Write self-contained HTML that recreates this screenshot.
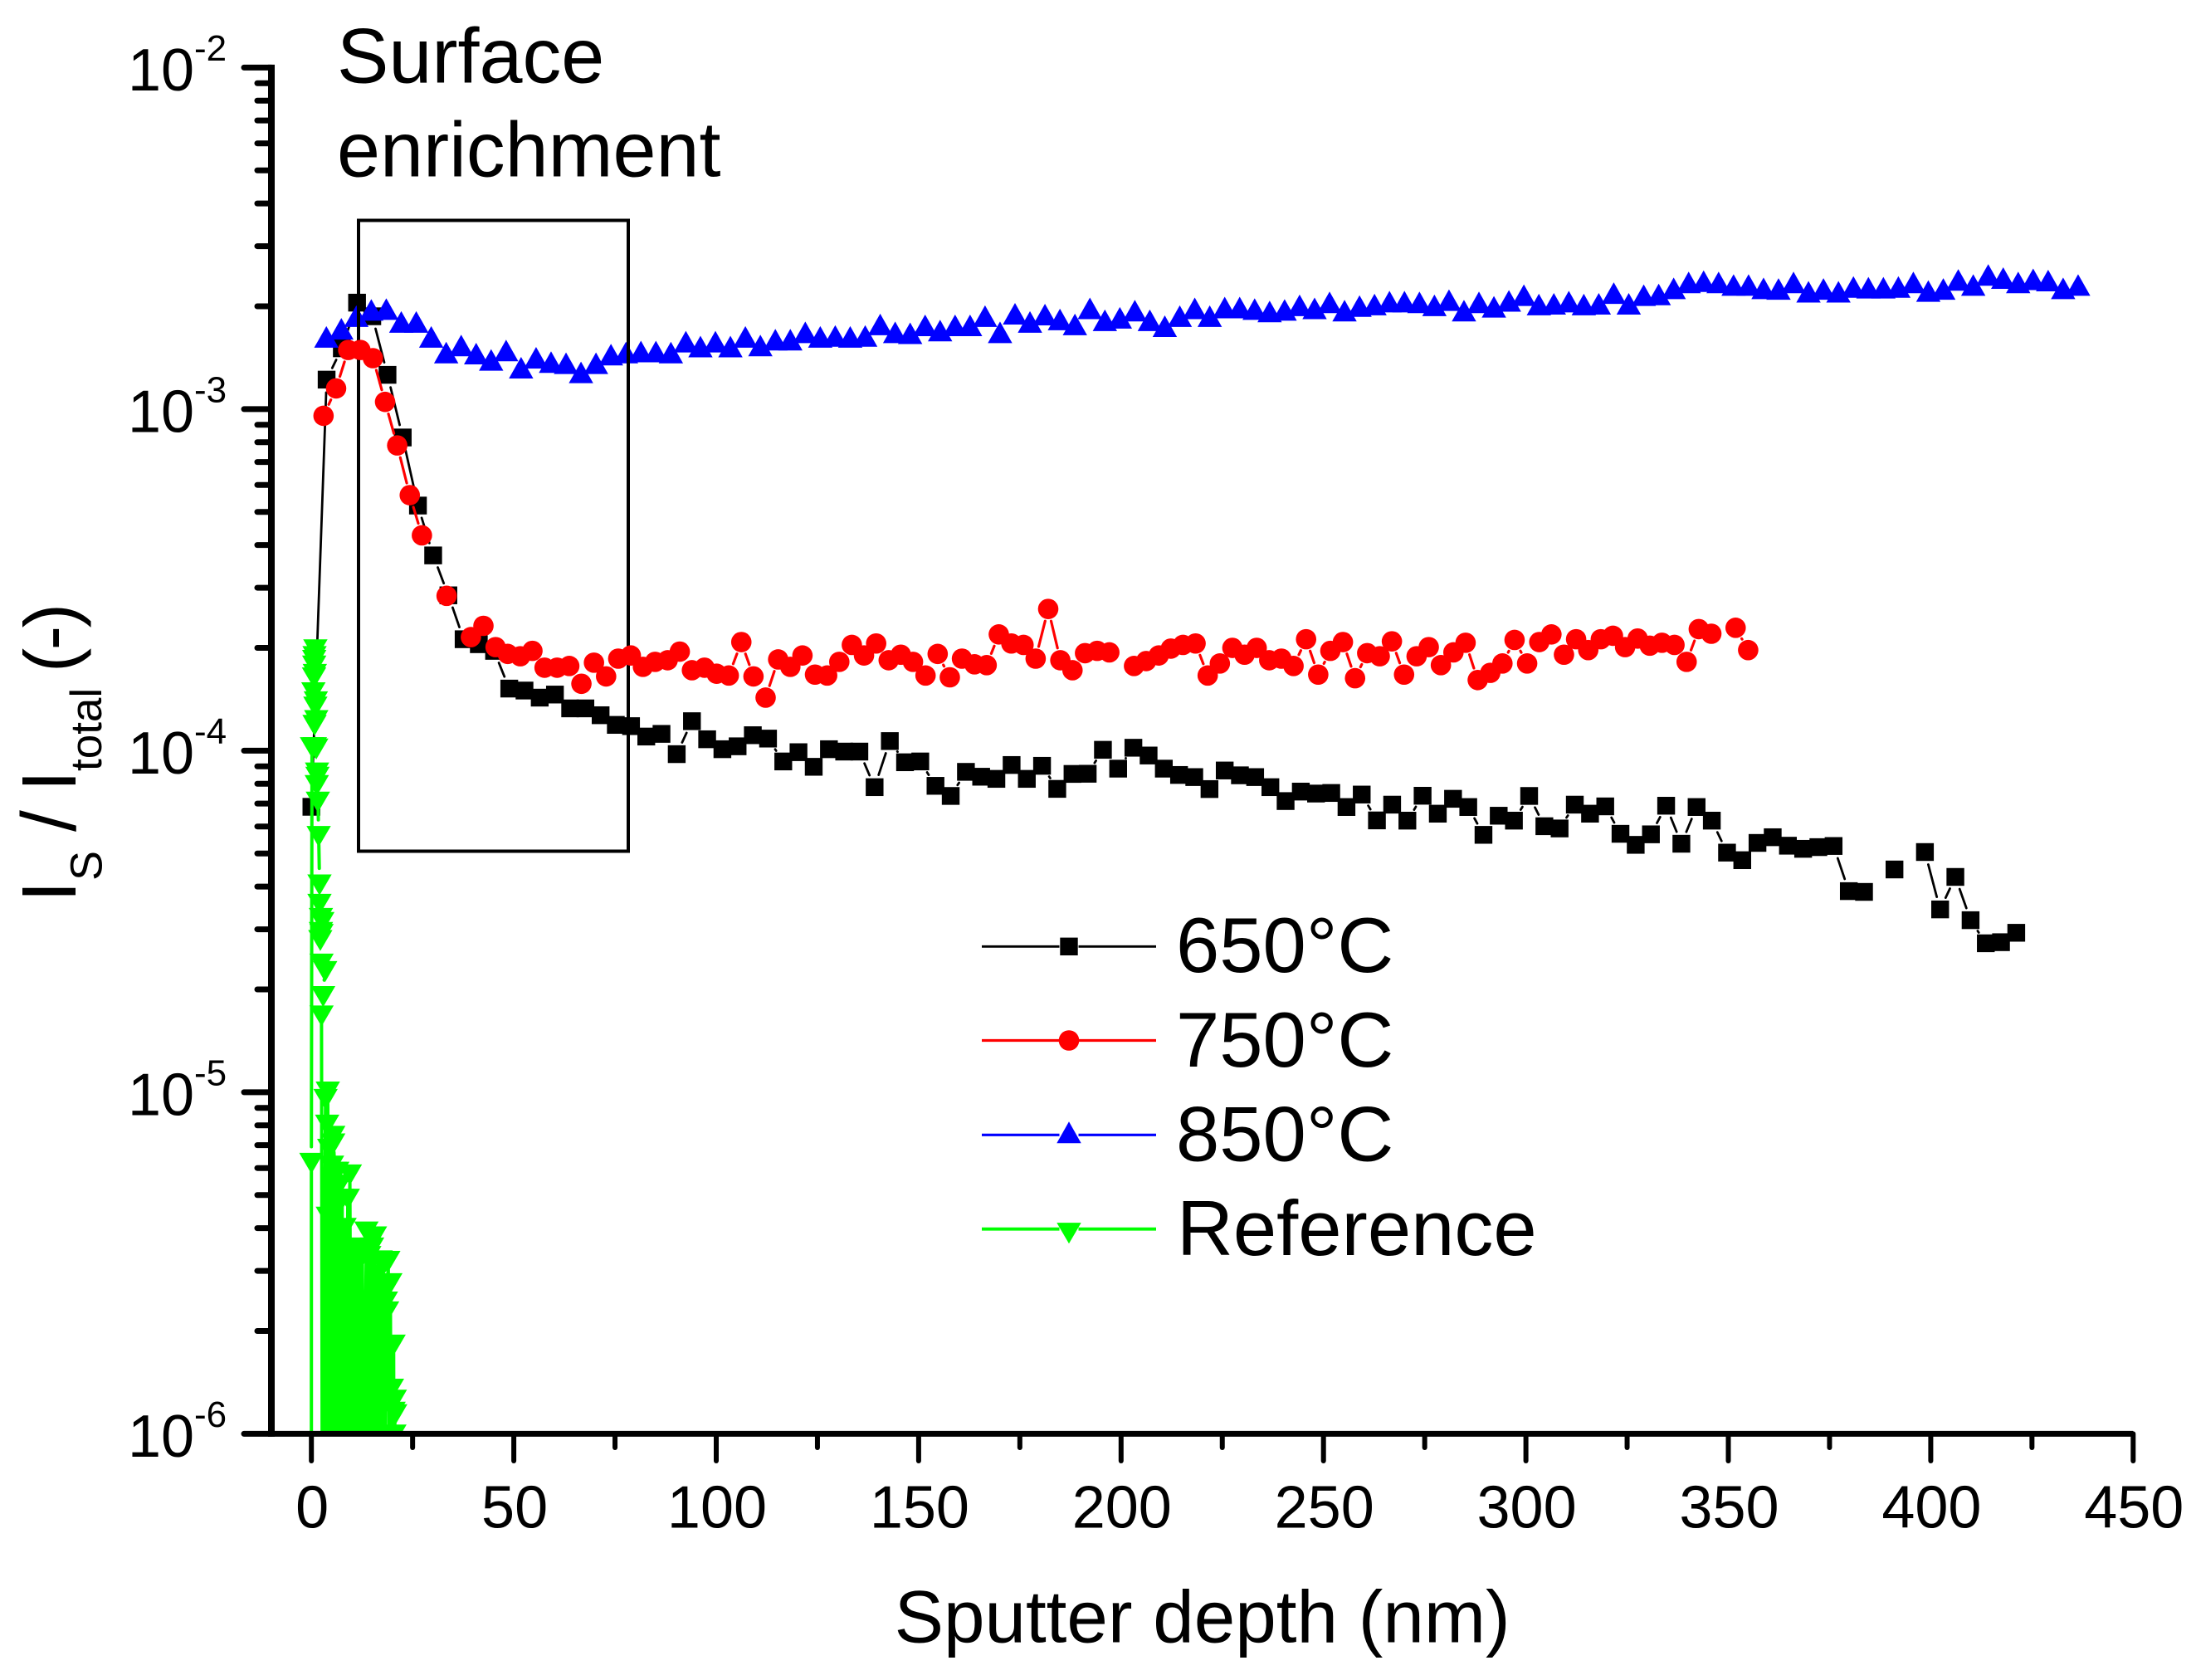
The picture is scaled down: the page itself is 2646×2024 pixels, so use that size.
<!DOCTYPE html>
<html>
<head>
<meta charset="utf-8">
<title>Sputter depth profile</title>
<style>
html,body{margin:0;padding:0;background:#fff;}
svg{display:block;}
text{font-family:"Liberation Sans",sans-serif;fill:#000;}
</style>
</head>
<body>
<svg id="chart" xmlns="http://www.w3.org/2000/svg" width="2646" height="2024" viewBox="0 0 2646 2024">
  <defs><clipPath id="plot-clip"><rect x="0" y="0" width="2646" height="1727"/></clipPath></defs>
  <rect x="0" y="0" width="2646" height="2024" fill="#fff"/>
  <g id="g650" clip-path="url(#plot-clip)"></g>
  <g id="g850" clip-path="url(#plot-clip)"></g>
  <rect x="432" y="265.5" width="325" height="760" fill="none" stroke="#000" stroke-width="4"/>
  <g id="g750" clip-path="url(#plot-clip)"></g>
  <g id="gRef" clip-path="url(#plot-clip)"></g>
  <g id="axes"></g>

  <text x="406" y="99.5" font-size="93.5">Surface</text>
  <text x="406" y="212.5" font-size="93.5">enrichment</text>

  <text x="1077.6" y="1978.5" font-size="89">Sputter depth (nm)</text>

  <g>
    <text transform="translate(91,1087) rotate(-90)" font-size="93">I</text>
    <text transform="translate(122.5,1061) rotate(-90)" font-size="54">S</text>
    <text transform="translate(91,1002) rotate(-90)" font-size="93">/</text>
    <text transform="translate(91,953.7) rotate(-90)" font-size="93">I</text>
    <text transform="translate(122,929) rotate(-90)" font-size="53">total</text>
    <text transform="translate(91,810) rotate(-90)" font-size="88" letter-spacing="-2.5">(-)</text>
  </g>

  <g id="legend">
    <text x="1417" y="1171" font-size="94">650°C</text>
    <text x="1417" y="1285" font-size="94">750°C</text>
    <text x="1417" y="1398.5" font-size="94">850°C</text>
    <text x="1418" y="1512" font-size="94">Reference</text>
  </g>
</svg>
<script>
// Axis ranges
const xDomain = [-10, 450];
const yDecades = [-2, -3, -4, -5, -6];
const xMajorTicks = [0, 50, 100, 150, 200, 250, 300, 350, 400, 450];
const xMinorTicks = [25, 75, 125, 175, 225, 275, 325, 375, 425];
const yMinorMultipliers = [2, 3, 4, 5, 6, 7, 8, 9];
const UNIT = 1e-4; // all intensity arrays below are in units of 1e-4

const depth650 = [0,3.76,7.52,11.28,15.04,18.8,22.56,26.32,30.08,33.84,37.6,41.36,45.12,48.88,52.64,56.4,60.16,63.92,67.68,71.44,75.2,78.96,82.72,86.48,90.24,94,97.76,101.52,105.28,109.04,112.8,116.56,120.32,124.08,127.84,131.6,135.36,139.12,142.88,146.64,150.4,154.16,157.92,161.68,165.44,169.2,172.96,176.72,180.48,184.24,188,191.76,195.52,199.28,203.04,206.8,210.56,214.32,218.08,221.84,225.6,229.36,233.12,236.88,240.64,244.4,248.16,251.92,255.68,259.44,263.2,266.96,270.72,274.48,278.24,282,285.76,289.52,293.28,297.04,300.8,304.56,308.32,312.08,315.84,319.6,323.36,327.12,330.88,334.64,338.4,342.16,345.92,349.68,353.44,357.2,360.96,364.72,368.48,372.24,376,379.76,383.52,387.28,391.04,394.8,398.56,402.32,406.08,409.84,413.6,417.36,421.12];
const value650 = [0.685,12.2,15.07,20.5,18.7,12.6,8.26,5.22,3.73,2.85,2.12,2.05,1.96,1.52,1.50,1.43,1.46,1.33,1.33,1.27,1.19,1.18,1.10,1.12,0.977,1.22,1.08,1.01,1.03,1.11,1.085,0.93,0.99,0.897,1.01,0.994,0.994,0.782,1.067,0.925,0.93,0.789,0.737,0.867,0.839,0.827,0.908,0.827,0.903,0.773,0.855,0.856,1.006,0.886,1.02,0.968,0.886,0.849,0.837,0.772,0.875,0.847,0.837,0.782,0.712,0.759,0.749,0.752,0.684,0.744,0.625,0.695,0.624,0.738,0.654,0.723,0.684,0.567,0.645,0.624,0.737,0.601,0.592,0.695,0.654,0.687,0.571,0.530,0.569,0.690,0.534,0.684,0.624,0.503,0.478,0.537,0.558,0.527,0.516,0.522,0.526,0.388,0.386,null,0.449,null,0.505,0.343,0.427,0.319,0.273,0.275,0.293];

const depth750 = [3.0,6.1,9.1,12.1,15.2,18.2,21.2,24.3,27.3,30.3,33.4,36.4,39.4,42.5,45.5,48.5,51.6,54.6,57.6,60.7,63.7,66.7,69.8,72.8,75.8,78.9,81.9,84.9,88,91,94,97.1,100.1,103.1,106.2,109.2,112.2,115.3,118.3,121.3,124.4,127.4,130.4,133.5,136.5,139.5,142.6,145.6,148.6,151.7,154.7,157.7,160.7,163.8,166.8,169.8,172.9,175.9,178.9,182,185,188,191.1,194.1,197.1,200.2,203.2,206.2,209.3,212.3,215.3,218.4,221.4,224.4,227.5,230.5,233.5,236.6,239.6,242.6,245.7,248.7,251.7,254.8,257.8,260.8,263.9,266.9,269.9,273,276,279,282.1,285.1,288.1,291.2,294.2,297.2,300.3,303.3,306.3,309.4,312.4,315.4,318.5,321.5,324.5,327.6,330.6,333.6,336.7,339.7,342.7,345.8,348.8,351.8,354.9];
const value750 = [9.56,11.5,14.9,14.9,14.1,10.5,7.83,5.6,4.27,null,2.84,null,2.15,2.32,2.01,1.92,1.89,1.96,1.75,1.75,1.77,1.57,1.81,1.65,1.86,1.90,1.76,1.82,1.84,1.95,1.72,1.75,1.68,1.66,2.08,1.65,1.43,1.85,1.76,1.90,1.67,1.66,1.82,2.04,1.90,2.06,1.84,1.91,1.82,1.66,1.92,1.64,1.86,1.79,1.78,2.19,2.06,2.04,1.86,2.60,1.84,1.72,1.93,1.96,1.94,null,1.77,1.83,1.90,1.99,2.04,2.06,1.66,1.80,2.00,1.91,2.00,1.84,1.86,1.77,2.12,1.67,1.96,2.08,1.63,1.93,1.89,2.09,1.67,1.89,2.01,1.78,1.94,2.07,1.61,1.69,1.80,2.11,1.80,2.08,2.19,1.91,2.12,1.97,2.12,2.17,2.01,2.13,2.03,2.07,2.04,1.82,2.27,2.20,null,2.29,1.97];

const depth850 = [3.7,7.4,11.1,14.8,18.5,22.2,25.9,29.6,33.3,37,40.7,44.4,48.1,51.8,55.5,59.2,62.9,66.6,70.3,74,77.7,81.4,85.1,88.8,92.5,96.1,99.8,103.5,107.2,110.9,114.6,118.3,122,125.7,129.4,133.1,136.8,140.5,144.2,147.9,151.6,155.3,159,162.7,166.4,170.1,173.8,177.5,181.2,184.9,188.6,192.3,196,199.7,203.4,207.1,210.8,214.5,218.2,221.9,225.6,229.3,233,236.7,240.4,244.1,247.8,251.5,255.2,258.9,262.6,266.3,270,273.7,277.4,281,284.7,288.4,292.1,295.8,299.5,303.2,306.9,310.6,314.3,318,321.7,325.4,329.1,332.8,336.5,340.2,343.9,347.6,351.3,355,358.7,362.4,366.1,369.8,373.5,377.2,380.9,384.6,388.3,392,395.7,399.4,403.1,406.8,410.5,414.2,417.9,421.6,425.3,429,432.7,436.4];
const value850 = [16.0,16.9,18.4,19.2,19.3,17.7,17.7,16.0,14.4,15.1,14.3,13.7,14.6,13.0,13.9,13.5,13.4,12.6,13.4,14.2,14.4,14.5,14.5,14.4,15.5,15.0,15.5,15.0,16.0,15.1,15.7,15.7,16.5,16.0,16.1,16.0,16.1,17.4,16.5,16.4,17.3,16.7,17.3,17.3,18.4,16.5,18.7,17.7,18.6,18.0,17.4,19.4,17.9,18.2,19.1,17.9,17.2,18.4,19.4,18.4,19.5,19.5,19.3,19.0,19.2,19.8,19.4,20.2,19.1,19.7,19.9,20.3,20.3,20.2,19.8,20.5,19.1,20.2,19.6,20.4,21.2,19.9,20.0,20.3,19.9,20.0,21.5,20.0,21.2,21.3,22.2,23.1,23.3,23.1,22.7,22.7,22.2,22.1,23.1,21.7,22.1,21.7,22.4,22.3,22.3,22.4,23.1,21.8,22.1,23.5,22.7,24.3,23.8,23.1,23.6,23.4,22.2,22.7];

const depthRef = [0,0,0.15,0.78,0.5,0.65,0.7,0.7,0.78,0.98,0.85,1.1,0.98,1.2,0.85,1.2,1.4,1.5,1.33,1.6,1.8,2.0,2.0,2.35,2.7,2.35,2.5,2.2,2.5,3.4,2.9,2.5,2.7,3.5,3.6,3.9,4.0,4.06,4.2,4.06,4.4,4.6,5.1,5.2,5.4,5.5,5.4,5.8,6.0,6.4,6.6,7.0,7.2,7.6,7.8,8.2,8.5,9.0,9.2,9.5,9.8,10.2,10.5,10.8,11.0,11.2,11.5,11.9,12.2,12.6,12.9,13.6,13.9,14.3,14.6,15,15.3,15.7,16,16.4,16.7,17.1,17.4,17.8,18.1,18.4,18.7,19,19.2,19.5,19.7,19.9,20,20.3,20.4,20.6,20.7,20.3,20.7,20.5];
const valueRef = [0.005,0.0637,1.05,1.22,1.52,1.68,1.82,1.89,1.94,2.03,1.72,1.43,1.38,1.26,1.05,1.04,0.885,0.86,0.813,0.727,0.577,0.416,0.365,0.332,0.323,0.302,0.298,0.286,0.244,0.232,0.196,0.172,0.005,0.098,0.005,0.0824,0.005,0.103,0.005,0.0443,0.07,0.005,0.0625,0.005,0.0764,0.005,0.0726,0.06,0.005,0.06,0.005,0.055,0.005,0.05,0.005,0.0411,0.005,0.05,0.005,0.0589,0.005,0.035,0.005,0.033,0.005,0.034,0.005,0.036,0.005,0.034,0.005,0.0401,0.005,0.034,0.005,0.036,0.005,0.0388,0.005,0.03,0.005,0.033,0.005,0.027,0.005,0.025,0.0234,0.0329,0.005,0.0283,0.005,0.0139,0.005,0.0187,0.005,0.0129,0.005,0.0119,0.0117,0.0102];

const SVGNS = 'http://www.w3.org/2000/svg';
const X0 = 375.2, XPERNM = 4.878;
const YTOP = 81.4, YDEC = 411.5;
function xScale(d){ return X0 + XPERNM * d; }
function yScale(v){ return YTOP + (-2 - Math.log10(v * UNIT)) * YDEC; }
function yFromExp(e){ return YTOP + (-2 - e) * YDEC; }
function mk(tag, attrs){
  const el = document.createElementNS(SVGNS, tag);
  for (const k in attrs) el.setAttribute(k, attrs[k]);
  return el;
}

// Axes
const axes = document.getElementById('axes');
const plotLeft = xScale(xDomain[0]) + 0.8;
const plotRight = xScale(xDomain[1]);
const bottomY = yFromExp(-6);

const ySpine = mk('line',{x1:327,y1:YTOP-3.5,x2:327,y2:bottomY+3.5,stroke:'#000','stroke-width':8});


axes.appendChild(ySpine);

const xSpine = mk('line',{x1:plotLeft-4,y1:bottomY,x2:plotRight,y2:bottomY,stroke:'#000','stroke-width':7});


axes.appendChild(xSpine);

xMajorTicks.forEach(function(t){
  const px = xScale(t);
  const tick = mk('line',{x1:px,y1:bottomY,x2:px,y2:1760,stroke:'#000','stroke-width':6,'stroke-linecap':'round'});
  
  
  axes.appendChild(tick);
  const label = mk('text',{x:px+1,y:1840.5,'font-size':72,'text-anchor':'middle'});
  label.textContent = String(t);
  
  
  axes.appendChild(label);
});
xMinorTicks.forEach(function(t){
  const px = xScale(t);
  const tick = mk('line',{x1:px,y1:bottomY,x2:px,y2:1744,stroke:'#000','stroke-width':6,'stroke-linecap':'round'});
  
  
  axes.appendChild(tick);
});
yDecades.forEach(function(e){
  const py = yFromExp(e);
  const tick = mk('line',{x1:294,y1:py,x2:327,y2:py,stroke:'#000','stroke-width':7,'stroke-linecap':'round'});
  
  
  axes.appendChild(tick);
  const base = mk('text',{x:154,y:py+27.6,'font-size':72});
  base.textContent = '10';
  
  
  axes.appendChild(base);
  const expo = mk('text',{x:234,y:py-8.6,'font-size':44});
  expo.textContent = String(e);
  
  
  axes.appendChild(expo);
  if (e > -6) {
    yMinorMultipliers.forEach(function(m){
      const my = yFromExp(e - 1 + Math.log10(m));
      const minor = mk('line',{x1:310,y1:my,x2:327,y2:my,stroke:'#000','stroke-width':7,'stroke-linecap':'round'});
      
      
      axes.appendChild(minor);
    });
  }
});

// Marker shapes
function markerEl(kind, cx, cy, color){
  if (kind === 'square') return mk('rect',{x:cx-10.7,y:cy-10.7,width:21.4,height:21.4,fill:color});
  if (kind === 'circle') return mk('circle',{cx:cx,cy:cy,r:12.3,fill:color});
  if (kind === 'up') return mk('polygon',{points:(cx-14.7)+','+(cy+10)+' '+cx+','+(cy-16)+' '+(cx+14.7)+','+(cy+10),fill:color});
  return mk('polygon',{points:(cx-14.7)+','+(cy-7.6)+' '+cx+','+(cy+17.6)+' '+(cx+14.7)+','+(cy-7.6),fill:color});
}

// Series: connecting lines stop short of each symbol, leaving a gap
function drawSeries(groupId, depths, values, color, kind, lineWidth, gap, seriesName){
  const g = document.getElementById(groupId);
  let d = '';
  for (let i = 0; i + 1 < depths.length; i++) {
    if (values[i] == null || values[i+1] == null) continue;
    const x1 = xScale(depths[i]), y1 = yScale(values[i]);
    const x2 = xScale(depths[i+1]), y2 = yScale(values[i+1]);
    const len = Math.hypot(x2-x1, y2-y1);
    if (len <= gap * 2) continue;
    const ux = (x2-x1)/len, uy = (y2-y1)/len;
    d += 'M'+(x1+ux*gap).toFixed(1)+' '+(y1+uy*gap).toFixed(1)+'L'+(x2-ux*gap).toFixed(1)+' '+(y2-uy*gap).toFixed(1);
  }
  const path = mk('path',{d:d,fill:'none',stroke:color,'stroke-width':lineWidth,'stroke-linecap':'round'});
  
  
  g.appendChild(path);
  for (let i = 0; i < depths.length; i++) {
    if (values[i] == null) continue;
    const m = markerEl(kind, xScale(depths[i]), yScale(values[i]), color);
    
    
    g.appendChild(m);
  }
}
drawSeries('g650', depth650, value650, '#000000', 'square', 2.8, 15.5, 'series-650c');
drawSeries('g850', depth850, value850, '#0000ff', 'up', 3, 15.5, 'series-850c');
drawSeries('g750', depth750, value750, '#ff0000', 'circle', 3.2, 15, 'series-750c');
drawSeries('gRef', depthRef, valueRef, '#00ff00', 'down', 4, 15, 'series-reference');

// Legend samples
const legendKeys = [
  {y:1140.3, color:'#000000', kind:'square', w:2.8, name:'legend-key-650c'},
  {y:1253.5, color:'#ff0000', kind:'circle', w:3.2, name:'legend-key-750c'},
  {y:1367.3, color:'#0000ff', kind:'up', w:3.2, name:'legend-key-850c'},
  {y:1480.7, color:'#00ff00', kind:'down', w:3.8, name:'legend-key-reference'}
];
const legend = document.getElementById('legend');
legendKeys.forEach(function(k){
  const halo = 11.5;
  const left = mk('line',{x1:1183,y1:k.y,x2:1288-halo,y2:k.y,stroke:k.color,'stroke-width':k.w});
  
  
  legend.appendChild(left);
  const right = mk('line',{x1:1288+halo,y1:k.y,x2:1393,y2:k.y,stroke:k.color,'stroke-width':k.w});
  
  
  legend.appendChild(right);
  const sym = markerEl(k.kind, 1288, k.y, k.color);
  
  
  legend.appendChild(sym);
});
</script>
</body>
</html>
